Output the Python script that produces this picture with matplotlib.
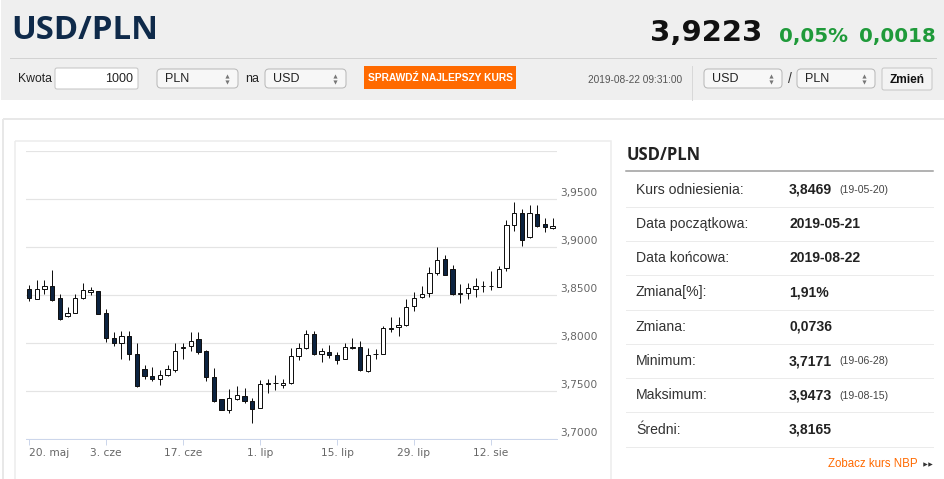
import matplotlib
matplotlib.use("Agg")
import numpy as np
import matplotlib.pyplot as plt
from matplotlib.patches import Rectangle, FancyBboxPatch

W, H = 945, 479
PT = 0.72  # punkty na piksel przy dpi=100

# Notowania dzienne USD/PLN (20.05 - 22.08.2019)
opens = [3.8560, 3.8462, 3.8567, 3.8595, 3.8466, 3.8284, 3.8312, 3.8473, 3.8536, 3.8543,
         3.8316, 3.8050, 3.7995, 3.8078, 3.7883, 3.7726, 3.7656, 3.7625, 3.7667, 3.7715,
         3.7949, 3.7970, 3.8037, 3.7921, 3.7649, 3.7412, 3.7297, 3.7415, 3.7450, 3.7391,
         3.7328, 3.7572, 3.7586, 3.7565, 3.7583, 3.7862, 3.7946, 3.8089, 3.7890, 3.7911,
         3.7879, 3.7838, 3.7949, 3.7960, 3.7705, 3.7883, 3.7890, 3.8145, 3.8162, 3.8183,
         3.8382, 3.8476, 3.8525, 3.8728, 3.8874, 3.8769, 3.8515, 3.8518, 3.8560, 3.8595,
         3.8592, 3.8588, 3.8780, 3.9234, 3.9356, 3.9104, 3.9345, 3.9244, 3.9195]
highs = [3.8602, 3.8658, 3.8658, 3.8762, 3.8511, 3.8372, 3.8511, 3.8630, 3.8588, 3.8546,
         3.8358, 3.8113, 3.8120, 3.8124, 3.7995, 3.7768, 3.7750, 3.7715, 3.7768, 3.8002,
         3.8002, 3.8117, 3.8117, 3.7925, 3.7736, 3.7415, 3.7517, 3.7555, 3.7534, 3.7426,
         3.7618, 3.7625, 3.7663, 3.7625, 3.7953, 3.7995, 3.8131, 3.8124, 3.7953, 3.7981,
         3.7904, 3.8005, 3.8050, 3.8016, 3.7949, 3.7942, 3.8176, 3.8267, 3.8274, 3.8455,
         3.8536, 3.8598, 3.8787, 3.8996, 3.8920, 3.8815, 3.8612, 3.8623, 3.8672, 3.8644,
         3.8748, 3.8804, 3.9286, 3.9473, 3.9398, 3.9433, 3.9440, 3.9303, 3.9303]
lows = [3.8441, 3.8455, 3.8511, 3.8441, 3.8239, 3.8267, 3.8309, 3.8455, 3.8497, 3.8298,
        3.8012, 3.7967, 3.7834, 3.7827, 3.7541, 3.7621, 3.7604, 3.7565, 3.7660, 3.7695,
        3.7834, 3.7914, 3.7890, 3.7607, 3.7384, 3.7297, 3.7269, 3.7408, 3.7373, 3.7171,
        3.7325, 3.7482, 3.7506, 3.7534, 3.7576, 3.7827, 3.7935, 3.7879, 3.7803, 3.7848,
        3.7785, 3.7831, 3.7942, 3.7712, 3.7700, 3.7838, 3.7883, 3.8117, 3.8078, 3.8176,
        3.8337, 3.8466, 3.8476, 3.8707, 3.8707, 3.8504, 3.8413, 3.8455, 3.8483, 3.8536,
        3.8550, 3.8586, 3.8755, 3.9164, 3.9014, 3.9094, 3.9209, 3.9153, 3.9188]
closes = [3.8469, 3.8560, 3.8595, 3.8448, 3.8246, 3.8312, 3.8469, 3.8550, 3.8550, 3.8302,
          3.8047, 3.7995, 3.8071, 3.7890, 3.7551, 3.7656, 3.7625, 3.7667, 3.7729, 3.7921,
          3.7960, 3.8026, 3.7904, 3.7642, 3.7391, 3.7300, 3.7422, 3.7454, 3.7391, 3.7311,
          3.7572, 3.7579, 3.7583, 3.7586, 3.7869, 3.7953, 3.8089, 3.7886, 3.7921, 3.7876,
          3.7827, 3.7960, 3.7960, 3.7715, 3.7873, 3.7890, 3.8152, 3.8152, 3.8183, 3.8375,
          3.8466, 3.8508, 3.8728, 3.8860, 3.8710, 3.8511, 3.8518, 3.8571, 3.8598, 3.8598,
          3.8598, 3.8769, 3.9227, 3.9356, 3.9077, 3.9356, 3.9223, 3.9209, 3.9220]

tick_idx = [0, 10, 20, 30, 40, 50, 60]
tick_labels = ["20. maj", "3. cze", "17. cze", "1. lip", "15. lip", "29. lip", "12. sie"]
y_grid = [3.70, 3.75, 3.80, 3.85, 3.90, 3.95, 4.00]
y_labels = ["3,7000", "3,7500", "3,8000", "3,8500", "3,9000", "3,9500"]

stat_names = ["Kurs odniesienia:", "Data początkowa:", "Data końcowa:", "Zmiana[%]:",
              "Zmiana:", "Minimum:", "Maksimum:", "Średni:"]
stat_values = ["3,8469", "2019-05-21", "2019-08-22", "1,91%", "0,0736", "3,7171", "3,9473", "3,8165"]
stat_dates = ["(19-05-20)", "", "", "", "", "(19-06-28)", "(19-08-15)", ""]

last_rate = "3,9223"
change_pct = "0,05%"
change_abs = "0,0018"
timestamp = "2019-08-22 09:31:00"

NAVY = "#0c2340"
GREEN = "#1f9a3a"
ORANGE = "#ff6a00"
SANS = ["Liberation Sans", "DejaVu Sans"]

fig = plt.figure(figsize=(W / 100, H / 100), dpi=100)
fig.patch.set_facecolor("white")

# tło strony w pikselach
bg = fig.add_axes([0, 0, 1, 1])
bg.set_xlim(0, W)
bg.set_ylim(H, 0)
bg.axis("off")

bg.add_patch(Rectangle((1, 0), W, 100, fc="#efefef", ec="none"))
bg.plot([10, 936], [58, 58], color="#d2d2d2", lw=1 * PT)
bg.text(11, 30.5, "USD/PLN", fontsize=23.7, fontweight="bold", color="#0f2a4a",
        family=["Open Sans", "DejaVu Sans"], va="center", ha="left")

bg.text(762, 33, last_rate, fontsize=21, fontweight="bold", color="#111111",
        family="DejaVu Sans", va="center", ha="right")
bg.text(779, 36, change_pct, fontsize=14.3, fontweight="bold", color=GREEN,
        family="DejaVu Sans", va="center", ha="left")
bg.text(936, 36, change_abs, fontsize=14.3, fontweight="bold", color=GREEN,
        family="DejaVu Sans", va="center", ha="right")


def select_box(x0, x1, label):
    bg.add_patch(FancyBboxPatch((x0, 69), x1 - x0, 19, boxstyle="round,pad=0,rounding_size=4",
                                fc="#f7f7f7", ec="#b8b8b8", lw=1 * PT))
    bg.text(x0 + 8, 78.5, label, fontsize=9, color="#222222", family=SANS, va="center")
    bg.plot([x1 - 11], [75.5], marker="^", ms=3, color="#777777", mec="none")
    bg.plot([x1 - 11], [81.5], marker="v", ms=3, color="#777777", mec="none")


bg.text(18, 78.5, "Kwota", fontsize=8.8, color="#222222", family=SANS, va="center")
bg.add_patch(FancyBboxPatch((55, 68), 83, 21, boxstyle="round,pad=0,rounding_size=2",
                            fc="white", ec="#c4c4c4", lw=1 * PT))
bg.text(133, 78.5, "1000", fontsize=9, color="#222222", family=SANS, va="center", ha="right")
select_box(157, 238, "PLN")
bg.text(245, 78.5, "na", fontsize=9, color="#222222", family=SANS, va="center")
select_box(265, 346, "USD")
bg.add_patch(Rectangle((364, 66), 152, 23, fc=ORANGE, ec="none"))
bg.text(440, 77.5, "SPRAWDŹ NAJLEPSZY KURS", fontsize=7.4, fontweight="bold", color="white",
        family=["Liberation Sans Narrow", "Liberation Sans"], va="center", ha="center")

bg.text(682, 79.5, timestamp, fontsize=7.3, color="#555555", family=SANS, va="center", ha="right")
bg.plot([692, 692], [66, 100], color="#d8d8d8", lw=1 * PT)
select_box(704, 782, "USD")
bg.text(790, 79, "/", fontsize=10, color="#333333", family=SANS, va="center", ha="center")
select_box(797, 875, "PLN")
bg.add_patch(FancyBboxPatch((882, 68), 50, 22, boxstyle="round,pad=0,rounding_size=2",
                            fc="#f3f3f3", ec="#c6c6c6", lw=1 * PT))
bg.text(907, 79.5, "Zmień", fontsize=8.6, fontweight="bold", color="#111111",
        family=SANS, va="center", ha="center")

# ramki paneli
bg.add_patch(Rectangle((3, 119), 950, 400, fill=False, ec="#e8e8e8", lw=2 * PT))
bg.add_patch(Rectangle((15, 141), 596, 400, fill=False, ec="#ececec", lw=1.5 * PT))

# panel statystyk
bg.text(627, 155, "USD/PLN", fontsize=12, fontweight="bold", color="#222222",
        family=["Open Sans", "DejaVu Sans"], va="center")
bg.plot([626, 933], [171, 171], color="#9a9a9a", lw=1.5 * PT)
row_h = 34.3
for i, (name, val, dt) in enumerate(zip(stat_names, stat_values, stat_dates)):
    yc = 189.5 + i * row_h
    bg.text(636, yc, name, fontsize=10.1, color="#333333", family=SANS, va="center")
    bg.text(789, yc, val, fontsize=10.1, fontweight="bold", color="#222222", family=SANS, va="center")
    if dt:
        bg.text(839, yc + 0.5, dt, fontsize=7.6, color="#444444", family=SANS, va="center")
    bg.plot([626, 933], [yc + 17.2, yc + 17.2], color="#ebebeb", lw=1 * PT)
bg.text(918, 464, "Zobacz kurs NBP", fontsize=8.3, color=ORANGE, family=SANS, va="center", ha="right")
bg.plot([925, 929.5], [464, 464], ls="none", marker=">", ms=3.2, color="#333333", mec="none")

# wykres świecowy
left, right, top, bottom = 26, 556.7, 151, 439
ax = fig.add_axes([left / W, 1 - bottom / H, (right - left) / W, (bottom - top) / H])
ax.patch.set_alpha(0)

x = np.arange(len(opens))
o = np.array(opens)
c = np.array(closes)
up = c >= o
body_lo = np.minimum(o, c)
body_h = np.maximum(np.abs(c - o), 0.0003)

ax.vlines(x, lows, highs, color="#111111", lw=1 * PT, zorder=2)
ax.bar(x, body_h, bottom=body_lo, width=0.56,
       color=np.where(up, "white", NAVY), edgecolor="#111111", linewidth=1 * PT, zorder=3)

ax.set_xlim(-0.39, (right - left) / 7.7 - 0.39)
ax.set_ylim(3.70, 4.00)
ax.set_yticks(y_grid)
ax.yaxis.grid(True, color="#e4e4e4", lw=1.2 * PT)
ax.tick_params(axis="y", length=0, labelleft=False)
ax.set_axisbelow(True)
for v, lab in zip(y_grid, y_labels):
    ax.annotate(lab, xy=(1, v), xycoords=("axes fraction", "data"), xytext=(2.6, 4.0),
                textcoords="offset points", va="center", ha="left", fontsize=7.7,
                color="#666666", family="DejaVu Sans")

for s in ["top", "left", "right"]:
    ax.spines[s].set_visible(False)
ax.spines["bottom"].set_color("#ccd6eb")
ax.spines["bottom"].set_linewidth(1 * PT)
ax.set_xticks(tick_idx, tick_labels)
ax.tick_params(axis="x", length=4, color="#ccd6eb", width=1 * PT, pad=2.5,
               labelsize=7.7, labelcolor="#666666")
for t in ax.get_xticklabels():
    t.set_family("DejaVu Sans")
ax.get_xticklabels()[0].set_ha("left")
ax.get_xticklabels()[0].set_x(-0.35)

fig.savefig("out.png", dpi=100, facecolor="white")
